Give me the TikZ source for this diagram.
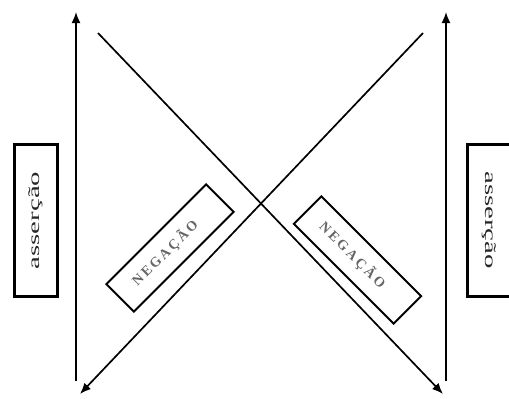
\documentclass[tikz,border=0pt]{standalone}
\usepackage{fontspec}
\setmainfont{Liberation Serif}
\usepackage{xcolor}
\usetikzlibrary{arrows.meta}
\usetikzlibrary{math}

\newcommand{\afirma}{\fontsize{16}{16}\selectfont\scalebox{1.8}[1]{asserção}}
\newcommand{\nega}{\fontsize{14}{14}\selectfont\bfseries\addfontfeature{LetterSpace=18}NEGAÇÃO\hspace*{14pt}}

\begin{document}
\begin{tikzpicture}[x=1pt,y=-1pt,
  seta/.style={line width=1.7pt,-{Latex[length=11pt,width=9pt]}},
  caixa/.style={draw,line width=3pt,minimum width=43pt,minimum height=152pt,inner sep=0pt,text=black!85},
  negbox/.style={draw,line width=2pt,minimum width=141pt,minimum height=39pt,inner sep=0pt,text=black!60}]
\tikzmath{
\t=12;
\b=381;
}
\useasboundingbox (0,0) rectangle (509,399);

\coordinate (esqB) at (76,\b);
\coordinate (esqT) at (76,\t);
\coordinate (dirB) at (446,\b);
\coordinate (dirT) at (446,\t);
\coordinate (d1a) at (98,33);
\coordinate (d1b) at (443,394);
\coordinate (d2a) at (423,33);
\coordinate (d2b) at (80,394);

\draw[seta] (esqB) -- (esqT);
\draw[seta] (dirB) -- (dirT);
\draw[seta] (d1a) -- (d1b);
\draw[seta] (d2a) -- (d2b);

\node[caixa] (assE) at (36,220.5) {\rotatebox{90}{\afirma}};
\node[caixa] (assD) at (489,220) {\rotatebox{-90}{\afirma}};

\node[negbox,rotate=45] (negE) at (170,248) {\nega};
\node[negbox,rotate=-45] (negD) at (357.5,260) {\nega};
\end{tikzpicture}
\end{document}
